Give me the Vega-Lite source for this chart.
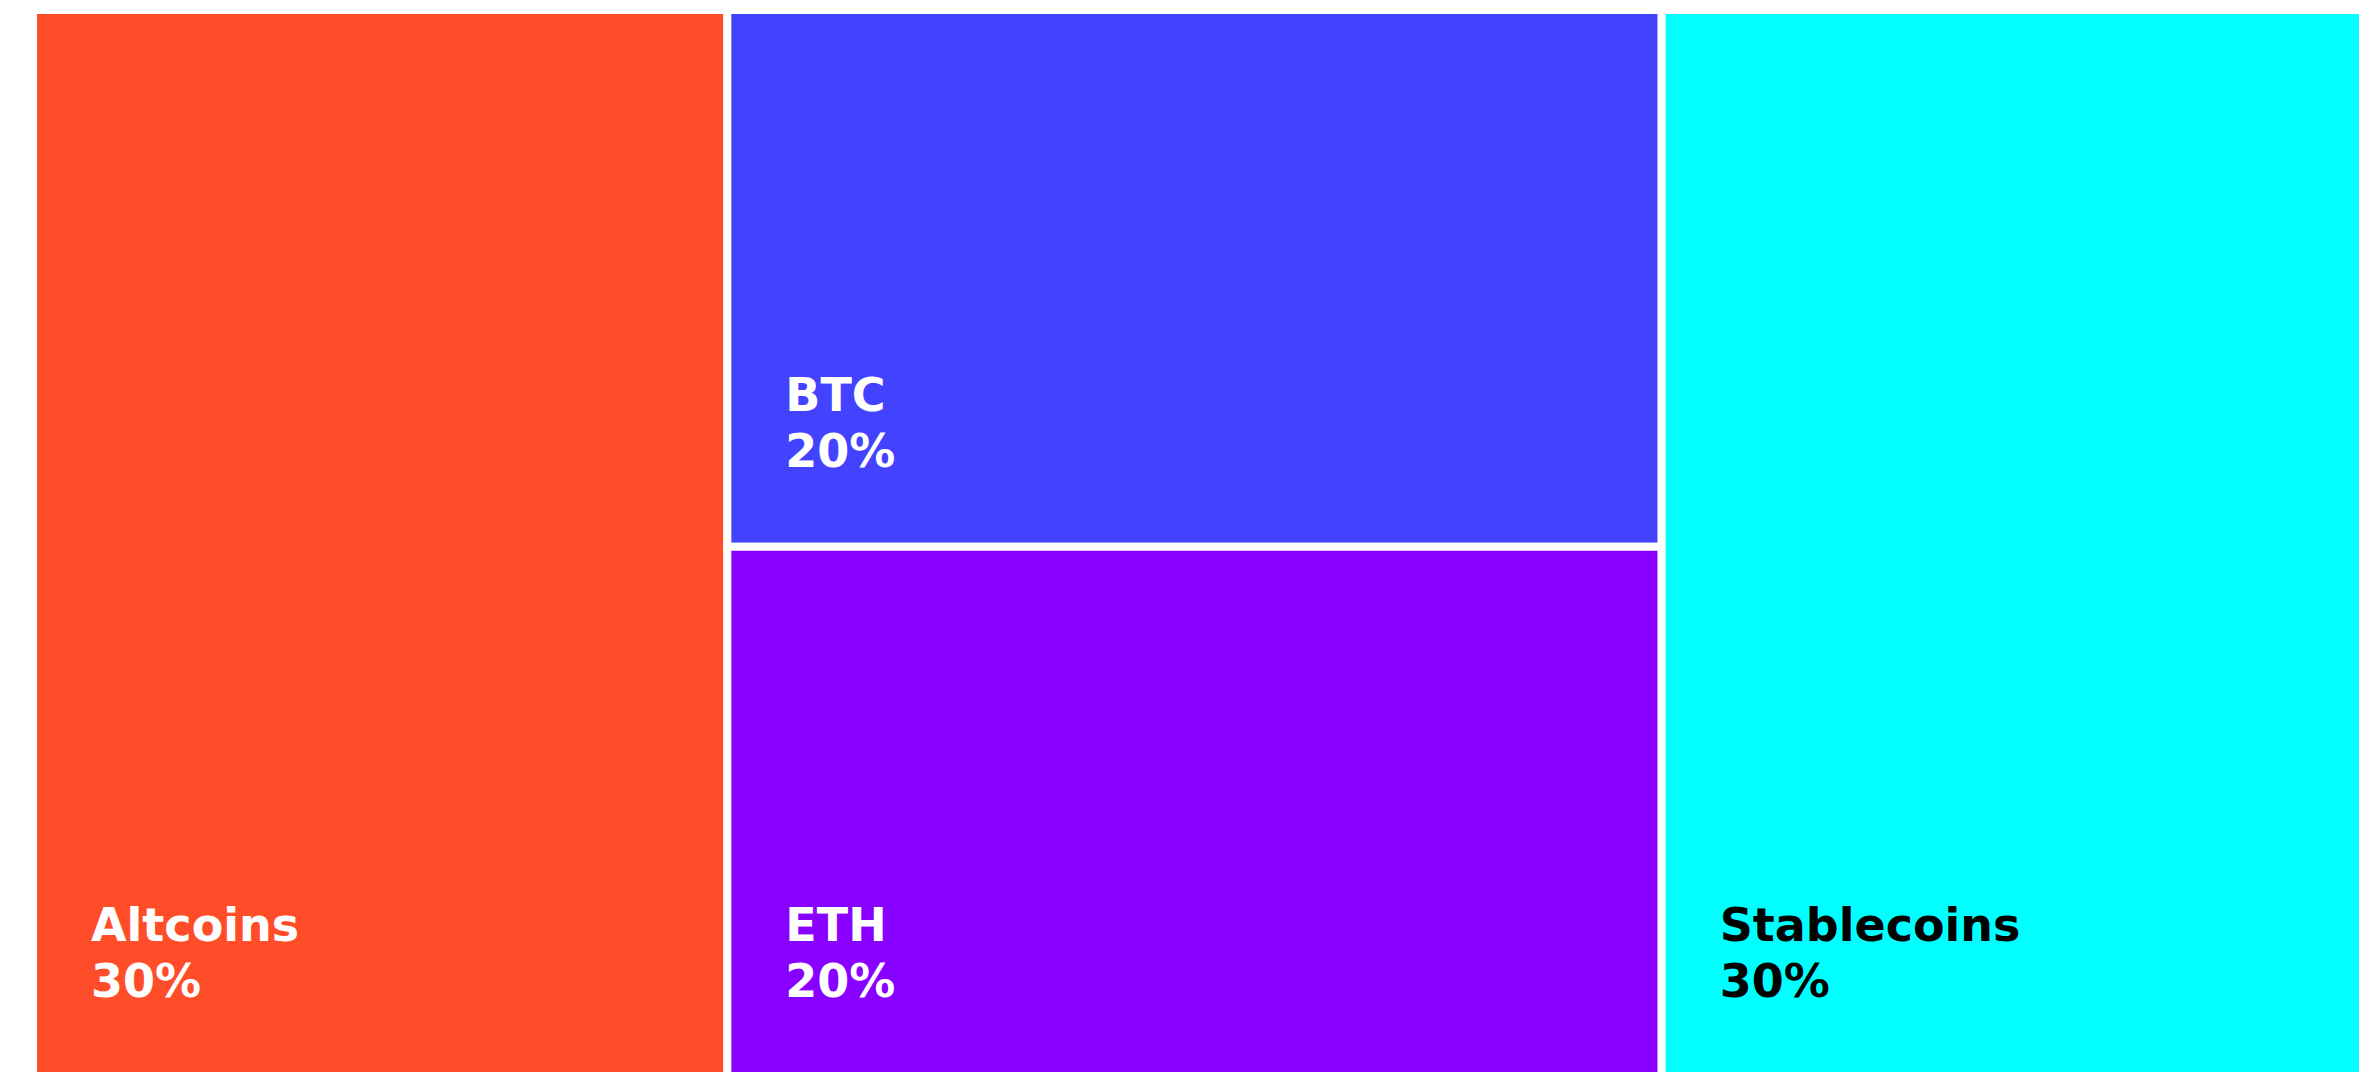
{
  "$schema": "https://vega.github.io/schema/vega-lite/v6.json",
  "width": 2330,
  "height": 1062,
  "autosize": {"type": "none"},
  "padding": {"left": 33, "top": 10, "right": 0, "bottom": 0},
  "background": "white",
  "config": {"view": {"stroke": null}},
  "data": {
    "values": [
      {"name": "Altcoins", "pct": "30%", "x0": 0, "x1": 29.8, "y0": 0, "y1": 100},
      {"name": "BTC", "pct": "20%", "x0": 29.8, "x1": 69.9, "y0": 0, "y1": 50.3},
      {"name": "ETH", "pct": "20%", "x0": 29.8, "x1": 69.9, "y0": 50.3, "y1": 100},
      {"name": "Stablecoins", "pct": "30%", "x0": 69.9, "x1": 100, "y0": 0, "y1": 100}
    ]
  },
  "layer": [
    {
      "mark": {"type": "rect", "stroke": "white", "strokeWidth": 8},
      "encoding": {
        "x": {"field": "x0", "type": "quantitative", "scale": {"domain": [0, 100], "nice": false, "zero": false}, "axis": null},
        "x2": {"field": "x1"},
        "y": {"field": "y0", "type": "quantitative", "scale": {"domain": [0, 99.53], "nice": false, "zero": false, "reverse": true}, "axis": null},
        "y2": {"field": "y1"},
        "fill": {"field": "name", "type": "nominal", "scale": {"domain": ["Altcoins", "BTC", "ETH", "Stablecoins"], "range": ["#FF4C29", "#4242FF", "#8800FF", "#00FFFF"]}, "legend": null}
      }
    },
    {
      "mark": {"type": "text", "align": "left", "baseline": "alphabetic", "dx": 58, "dy": -136, "font": "DejaVu Sans", "fontWeight": "bold", "fontSize": 46},
      "encoding": {
        "x": {"field": "x0", "type": "quantitative"},
        "y": {"field": "y1", "type": "quantitative"},
        "text": {"field": "name"},
        "color": {"field": "name", "type": "nominal", "scale": {"domain": ["Altcoins", "BTC", "ETH", "Stablecoins"], "range": ["#ffffff", "#ffffff", "#ffffff", "#000000"]}, "legend": null}
      }
    },
    {
      "mark": {"type": "text", "align": "left", "baseline": "alphabetic", "dx": 58, "dy": -80, "font": "DejaVu Sans", "fontWeight": "bold", "fontSize": 46},
      "encoding": {
        "x": {"field": "x0", "type": "quantitative"},
        "y": {"field": "y1", "type": "quantitative"},
        "text": {"field": "pct"},
        "color": {"field": "name", "type": "nominal", "scale": {"domain": ["Altcoins", "BTC", "ETH", "Stablecoins"], "range": ["#ffffff", "#ffffff", "#ffffff", "#000000"]}, "legend": null}
      }
    }
  ]
}
